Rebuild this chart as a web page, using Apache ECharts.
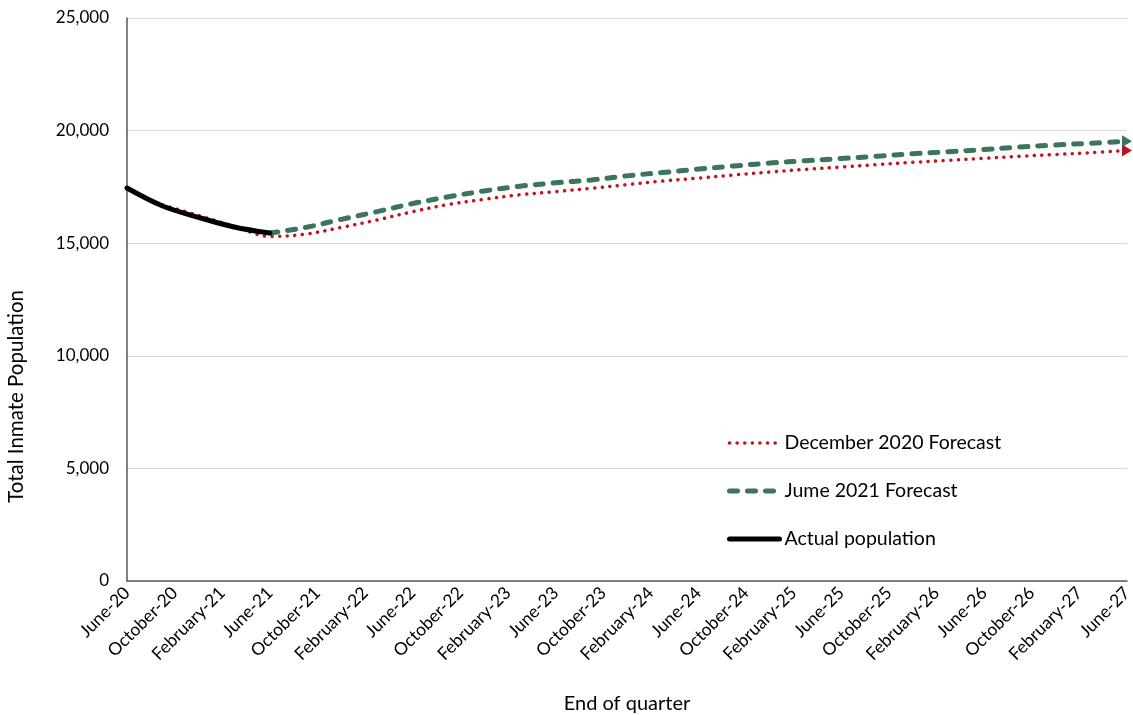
<!DOCTYPE html>
<html>
<head>
<meta charset="utf-8">
<script src="https://cdn.jsdelivr.net/npm/echarts@6/dist/echarts.min.js"></script>
<style>html,body{margin:0;padding:0;background:#fff;}#c{width:1133px;height:715px;}</style>
</head>
<body>
<div id="c"></div>
<script>
// Tick labels along the x axis (every 4 months, month index 0 = June-20)
const tickLabels = ["June-20","October-20","February-21","June-21","October-21","February-22","June-22","October-22","February-23","June-23","October-23","February-24","June-24","October-24","February-25","June-25","October-25","February-26","June-26","October-26","February-27","June-27"];

// Quarter ends (month index from June-20)
const actualMonths = [0, 3, 6, 9, 12];
const actualValues = [17450, 16650, 16150, 15720, 15450];

const dec2020Months = [3, 6, 9, 12, 15, 18, 21, 24, 27, 30, 33, 36, 39, 42, 45, 48, 51, 54, 57, 60, 63, 66, 69, 72, 75, 78, 81, 84];
const dec2020Values = [16700, 16230, 15760, 15300, 15400, 15700, 16030, 16400, 16720, 16950, 17150, 17290, 17440, 17600, 17760, 17890, 18030, 18160, 18280, 18380, 18490, 18590, 18680, 18770, 18860, 18940, 19020, 19120];

const jun2021Months = [12, 15, 18, 21, 24, 27, 30, 33, 36, 39, 42, 45, 48, 51, 54, 57, 60, 63, 66, 69, 72, 75, 78, 81, 84];
const jun2021Values = [15450, 15700, 16060, 16400, 16760, 17060, 17320, 17530, 17680, 17810, 17990, 18140, 18290, 18430, 18560, 18660, 18760, 18860, 18970, 19060, 19160, 19270, 19360, 19440, 19530];

const FONT = 'Lato, "Open Sans", sans-serif';

function pairs(ms, vs, arrowColor) {
  return ms.map((m, i) => {
    if (arrowColor && i === ms.length - 1) {
      return { value: [m, vs[i]], symbol: 'triangle', symbolSize: [12, 10], symbolRotate: -90,
               itemStyle: { color: arrowColor } };
    }
    return [m, vs[i]];
  });
}

const chart = echarts.init(document.getElementById('c'), null, { renderer: 'canvas' });
chart.setOption({
  animation: false,
  backgroundColor: '#fff',
  grid: { left: 127, right: 6, top: 18, bottom: 134, containLabel: false, outerBoundsMode: 'none' },
  xAxis: {
    type: 'value', min: 0, max: 84, interval: 4,
    name: 'End of quarter', nameLocation: 'middle', nameGap: 113,
    nameTextStyle: { fontFamily: FONT, fontSize: 20, color: '#000' },
    axisLine: { show: true, lineStyle: { color: '#595959', width: 1.5 } },
    axisTick: { show: false },
    splitLine: { show: false },
    axisLabel: {
      rotate: 45, fontFamily: FONT, fontSize: 17.5, color: '#000', margin: 9,
      formatter: v => tickLabels[Math.round(v / 4)] || ''
    }
  },
  yAxis: {
    type: 'value', min: 0, max: 25000, interval: 5000,
    axisLine: { show: true, lineStyle: { color: '#595959', width: 1.5 } },
    axisTick: { show: false },
    splitLine: { show: true, lineStyle: { color: '#D9D9D9', width: 1.2 } },
    axisLabel: {
      fontFamily: FONT, fontSize: 17, color: '#000', margin: 18,
      formatter: v => v.toLocaleString('en-US')
    }
  },
  legend: {
    orient: 'vertical', left: 722, top: 428, itemGap: 28, itemWidth: 50, itemHeight: 20,
    itemStyle: { opacity: 0 },
    lineStyle: { width: 'inherit' },
    textStyle: { fontFamily: FONT, fontSize: 19.5, color: '#000' },
    data: ['December 2020 Forecast', 'Jume 2021 Forecast', 'Actual population']
  },
  graphic: [{
    type: 'text', left: 6, top: 290, rotation: Math.PI / 2,
    style: { text: 'Total Inmate Population', font: '20.5px ' + FONT, fill: '#000' }
  }],
  series: [
    {
      name: 'December 2020 Forecast', type: 'line', smooth: 0.35,
      symbol: 'none', showSymbol: true, z: 2,
      lineStyle: { color: '#C0141C', width: 3.5, type: [0.1, 7.5], cap: 'round' },
      itemStyle: { color: '#C0141C' },
      data: pairs(dec2020Months, dec2020Values, '#C0141C')
    },
    {
      name: 'Jume 2021 Forecast', type: 'line', smooth: 0.35,
      symbol: 'none', showSymbol: true, z: 3,
      lineStyle: { color: '#3E735D', width: 5, type: [8, 10], cap: 'round' },
      itemStyle: { color: '#3E735D' },
      data: pairs(jun2021Months, jun2021Values, '#3E735D')
    },
    {
      name: 'Actual population', type: 'line', smooth: 0.35,
      symbol: 'none', z: 4,
      lineStyle: { color: '#000', width: 5, cap: 'round' },
      itemStyle: { color: '#000' },
      data: pairs(actualMonths, actualValues, null)
    }
  ]
});
</script>
</body>
</html>
